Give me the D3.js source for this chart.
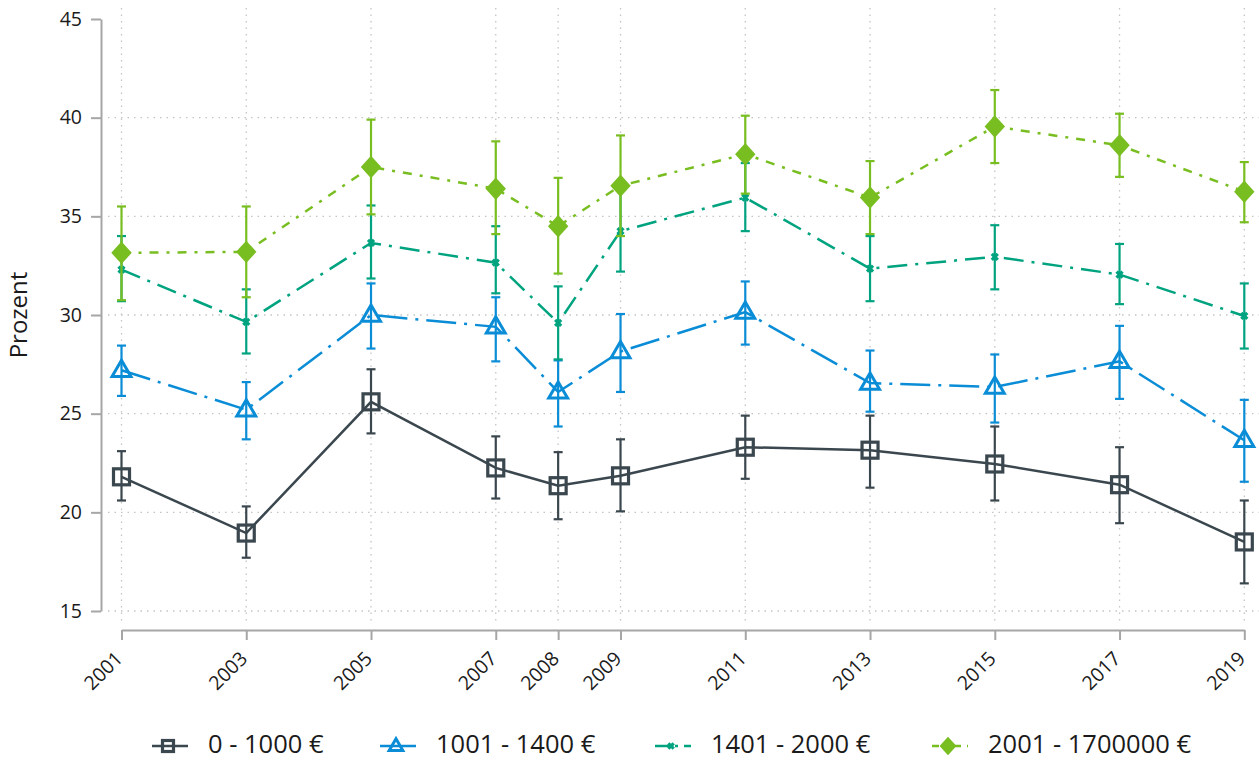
<!DOCTYPE html>
<html><head><meta charset="utf-8">
<script src="https://cdn.jsdelivr.net/npm/d3@7"></script>
<style>body{margin:0;background:#fff}svg{display:block;font-family:"Open Sans",sans-serif}</style>
</head><body><svg id="c" width="1259" height="760"></svg>
<script>
const years = [2001,2003,2005,2007,2008,2009,2011,2013,2015,2017,2019];
const yTicks = [15,20,25,30,35,40,45];
const seriesNames = ["0 - 1000 €","1001 - 1400 €","1401 - 2000 €","2001 - 1700000 €"];
const s1 = [21.8,18.95,25.6,22.25,21.35,21.85,23.3,23.15,22.45,21.4,18.5];
const s1lo = [20.6,17.7,24.0,20.7,19.65,20.05,21.7,21.25,20.6,19.45,16.4];
const s1hi = [23.1,20.3,27.25,23.85,23.05,23.7,24.9,24.9,24.35,23.3,20.6];
const s2 = [27.2,25.2,30.0,29.4,26.1,28.15,30.15,26.55,26.35,27.65,23.65];
const s2lo = [25.9,23.7,28.3,27.65,24.35,26.1,28.5,25.1,24.55,25.75,21.55];
const s2hi = [28.45,26.6,31.6,30.9,27.7,30.05,31.7,28.2,28.0,29.45,25.7];
const s3 = [32.3,29.65,33.65,32.65,29.6,34.25,35.95,32.35,32.95,32.05,29.95];
const s3lo = [30.7,28.05,31.85,31.1,27.75,32.2,34.25,30.7,31.3,30.55,28.3];
const s3hi = [34.0,31.3,35.55,34.5,31.45,36.3,37.7,34.0,34.55,33.6,31.6];
const s4 = [33.15,33.2,37.5,36.4,34.5,36.55,38.15,35.95,39.55,38.6,36.25];
const s4lo = [30.75,30.9,35.1,34.1,32.1,34.0,36.15,34.1,37.7,37.0,34.7];
const s4hi = [35.5,35.5,39.9,38.8,36.95,39.1,40.1,37.8,41.4,40.2,37.75];

const colors = ["#3b474e","#0a8dd6","#00a37f","#78be20"];
const dashes = [null,"30,8,3,8","20,8,3,8","9,8,3,8"];
const markers = ["square","triangle","cross","diamond"];
const vals = [s1,s2,s3,s4], los=[s1lo,s2lo,s3lo,s4lo], his=[s1hi,s2hi,s3hi,s4hi];

const svg = d3.select("#c");
const x = d3.scaleLinear().domain([2001,2019]).range([121.5,1244.3]);
const y = d3.scaleLinear().domain([15,45]).range([611,19]);
const axisColor = "#a6a6a6";

// grid
const g = svg.append("g");
g.selectAll("line.h").data(yTicks.filter(t=>t<45)).join("line")
  .attr("x1",108).attr("x2",1259).attr("y1",d=>y(d)).attr("y2",d=>y(d))
  .attr("stroke","#c4c4c4").attr("stroke-width",1.3).attr("stroke-dasharray","1.5,5");
g.selectAll("line.v").data(years).join("line")
  .attr("x1",d=>x(d)).attr("x2",d=>x(d)).attr("y1",8).attr("y2",625)
  .attr("stroke","#c4c4c4").attr("stroke-width",1.3).attr("stroke-dasharray","1.5,5");

// axes
const ya = svg.append("g").attr("transform","translate(101,0)")
  .call(d3.axisLeft(y).tickValues(yTicks).tickSize(10).tickSizeOuter(0).tickPadding(9));
ya.attr("font-size",19).attr("font-family","Open Sans");
ya.selectAll("text").style("font-size","19.5px").style("font-family","'Open Sans'").attr("fill","#1a1a1a");
const xa = svg.append("g").attr("transform","translate(0,630)")
  .call(d3.axisBottom(x).tickValues(years).tickFormat(d3.format("d")).tickSize(10).tickSizeOuter(0));
xa.attr("font-size",19).attr("font-family","Open Sans");
xa.selectAll("text").style("font-size","19.5px").style("font-family","'Open Sans'").attr("fill","#1a1a1a")
  .attr("text-anchor","end").attr("dy","0.35em").attr("y",0)
  .attr("transform","translate(-3,25) rotate(-45)");
[ya,xa].forEach(a=>{a.select(".domain").attr("stroke",axisColor).attr("stroke-width",2);
  a.selectAll(".tick line").attr("stroke",axisColor).attr("stroke-width",2);});

svg.append("text").attr("transform","translate(27,315) rotate(-90)")
  .attr("text-anchor","middle").style("font-size","24px").attr("fill","#1a1a1a").text("Prozent");

function drawMarker(sel, type, color, size){
  if(type==="square"){
    sel.append("rect").attr("x",-size/2).attr("y",-size/2).attr("width",size).attr("height",size)
      .attr("fill","none").attr("stroke",color).attr("stroke-width",3.2);
  } else if(type==="triangle"){
    const h=size*0.9, w=size*1.05;
    sel.append("path").attr("d",`M0,${-h*0.62}L${w/2},${h*0.38}L${-w/2},${h*0.38}Z`)
      .attr("fill","none").attr("stroke",color).attr("stroke-width",3);
  } else if(type==="cross"){
    const s=size*0.3;
    sel.append("path").attr("d",`M${-s},${-s}L${s},${s}M${-s},${s}L${s},${-s}`)
      .attr("stroke",color).attr("stroke-width",3.2);
  } else {
    const s=size*0.6;
    sel.append("path").attr("d",`M0,${-s*1.1}L${s},0L0,${s*1.1}L${-s},0Z`).attr("fill",color);
  }
}

const line = d3.line().x(d=>x(d[0])).y(d=>y(d[1]));
vals.forEach((v,i)=>{
  const c=colors[i];
  const sg=svg.append("g");
  years.forEach((yr,j)=>{
    const xx=x(yr);
    sg.append("line").attr("x1",xx).attr("x2",xx).attr("y1",y(los[i][j])).attr("y2",y(his[i][j]))
      .attr("stroke",c).attr("stroke-width",2.2);
    [los[i][j],his[i][j]].forEach(e=>sg.append("line").attr("x1",xx-4.5).attr("x2",xx+4.5)
      .attr("y1",y(e)).attr("y2",y(e)).attr("stroke",c).attr("stroke-width",2.2));
  });
  sg.append("path").datum(years.map((yr,j)=>[yr,v[j]])).attr("d",line)
    .attr("fill","none").attr("stroke",c).attr("stroke-width",2.5)
    .attr("stroke-dasharray",dashes[i]);
  years.forEach((yr,j)=>{
    drawMarker(sg.append("g").attr("transform",`translate(${x(yr)},${y(v[j])})`),markers[i],c,[16,18,10,17][i]);
  });
});

// legend
const legX=[152,380,655,932], legY=746;
seriesNames.forEach((n,i)=>{
  const lg=svg.append("g");
  lg.append("line").attr("x1",legX[i]).attr("x2",legX[i]+36).attr("y1",legY).attr("y2",legY)
    .attr("stroke",colors[i]).attr("stroke-width",2.5).attr("stroke-dasharray",i<=1?null:(i===2?"14,6,3,6":"7,6,3,6"));
  drawMarker(lg.append("g").attr("transform",`translate(${legX[i]+16},${legY})`),markers[i],colors[i],[11,13,9,14][i]);
  lg.append("text").attr("x",legX[i]+56).attr("y",753).style("font-size","25.5px").attr("fill","#1a1a1a").text(n);
});
</script></body></html>
